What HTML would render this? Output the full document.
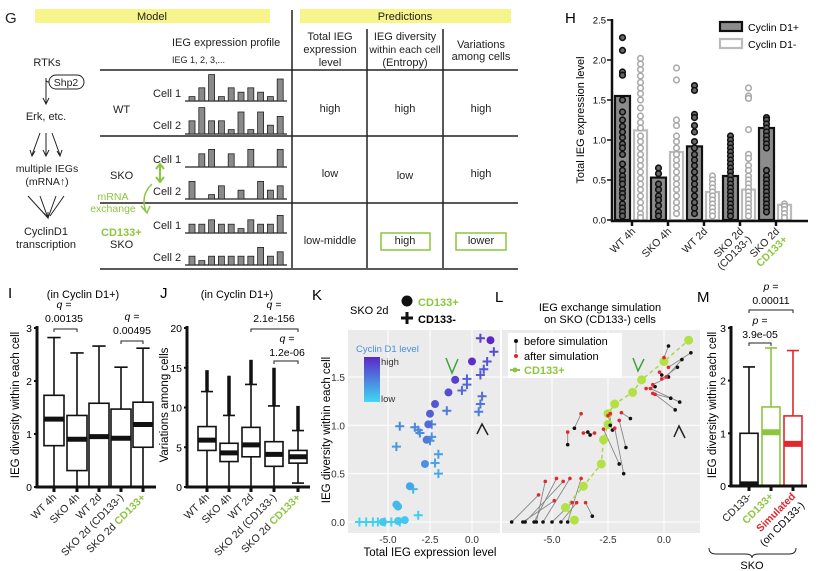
<!DOCTYPE html>
<html><head><meta charset="utf-8"><style>
html,body{margin:0;padding:0;background:#fff;}
svg{display:block;font-family:"Liberation Sans",Arial,sans-serif;}
</style></head><body>
<svg id="fig" width="820" height="571" viewBox="0 0 820 571">
<g id="panelG" font-size="11" fill="#222">
<text x="5" y="23" font-size="15">G</text>
<rect x="35" y="9" width="235" height="14" fill="#f7f48c"/>
<text x="152" y="20" text-anchor="middle">Model</text>
<rect x="300" y="9" width="211" height="14" fill="#f7f48c"/>
<text x="405" y="20" text-anchor="middle">Predictions</text>
<g stroke="#222" stroke-width="1.5">
<line x1="292" y1="10" x2="292" y2="268"/><line x1="367" y1="29" x2="367" y2="268"/><line x1="443" y1="29" x2="443" y2="268"/>
<line x1="100" y1="70" x2="518" y2="70"/><line x1="100" y1="136" x2="518" y2="136"/><line x1="100" y1="203" x2="518" y2="203"/><line x1="100" y1="269" x2="518" y2="269"/>
</g>
<text x="172" y="46" font-size="11">IEG expression profile</text>
<text x="172" y="63" font-size="9">IEG 1, 2, 3,...</text>
<g text-anchor="middle">
<text x="330" y="40">Total IEG</text><text x="330" y="53">expression</text><text x="330" y="66">level</text>
<text x="405" y="40">IEG diversity</text><text x="405" y="53" font-size="10.5">within each cell</text><text x="405" y="66">(Entropy)</text>
<text x="481" y="48">Variations</text><text x="481" y="60">among cells</text>
</g>
<g>
<text x="113" y="113">WT</text><text x="110" y="179">SKO</text>
<text x="101" y="236" fill="#8cc63f" font-weight="bold">CD133+</text><text x="110" y="248">SKO</text>
<text x="153" y="97">Cell 1</text><text x="153" y="129">Cell 2</text>
<text x="153" y="163">Cell 1</text><text x="153" y="195">Cell 2</text>
<text x="153" y="229">Cell 1</text><text x="153" y="261">Cell 2</text>
</g>
<g id="profiles"></g>
<g text-anchor="middle" font-size="11">
<text x="330" y="112">high</text><text x="405" y="112">high</text><text x="481" y="112">high</text>
<text x="330" y="177">low</text><text x="405" y="179">low</text><text x="481" y="177">high</text>
<text x="330" y="244">low-middle</text><text x="405" y="244">high</text><text x="481" y="244">lower</text>
</g>
<rect x="381" y="233" width="49" height="17" fill="none" stroke="#8cc63f" stroke-width="1.5"/>
<rect x="456" y="233" width="50" height="17" fill="none" stroke="#8cc63f" stroke-width="1.5"/>
<g text-anchor="middle">
<text x="47" y="66">RTKs</text>
<rect x="49" y="75" width="35" height="14" rx="7" fill="none" stroke="#222"/>
<text x="66" y="86" font-size="10.5">Shp2</text>
<path d="M46,78 L46,103 M43,98 L46,104 L49,98 M46,80 Q46,82 49,82" stroke="#222" fill="none"/>
<text x="46" y="120">Erk, etc.</text>
<path d="M46,133 L46,155 M43,150 L46,156 L49,150 M40,133 L32,155 M52,133 L60,155 M30,150 L32,156 L35,151 M57,151 L60,156 L62,150" stroke="#222" fill="none"/>
<text x="47" y="172" font-size="10.5">multiple IEGs</text>
<text x="47" y="185" font-size="10.5">(mRNA↑)</text>
<path d="M28,196 L48,218 M40,196 L48,218 M56,196 L48,218 M64,196 L50,216 M44,213 L48,218 L48,212" stroke="#222" fill="none"/>
<text x="46" y="235">CyclinD1</text><text x="46" y="248">transcription</text>
</g>
<g fill="#8cc63f" stroke="#8cc63f">
<path d="M160,165 L160,181 M156,169 L160,164 L164,169 M156,177 L160,182 L164,177" stroke-width="2" fill="none"/>
<path d="M152,184 Q140,195 146,212 M141,206 L147,213 L150,206" stroke-width="1.5" fill="none"/>
<text x="113" y="200" stroke="none" font-size="10.5" text-anchor="middle">mRNA</text>
<text x="113" y="212" stroke="none" font-size="10.5" text-anchor="middle">exchange</text>
</g>
</g>
<g id="panelH"></g>
<g id="panelI"></g>
<g id="panelJ"></g>
<g id="panelK"></g>
<g id="panelL"></g>
<g id="panelM"></g>
</svg>
<script>
const NS='http://www.w3.org/2000/svg';
function mk(parent,tag,attrs,txt){const e=document.createElementNS(NS,tag);for(const k in attrs)e.setAttribute(k,attrs[k]);if(txt!==undefined)e.textContent=txt;parent.appendChild(e);return e;}

// ---------- G profiles ----------
const profileRows=[[1,3,6,1,3,2,3,2,1,5],[3,6,3,3,1,5,1,5,2,4],[0,3,4,0,3,0,4,0,0,4],[4,0,1,3,0,2,0,4,2,3],[2,2,3,2,2,1,3,2,2,4],[2,1,2,2,2,2,2,4,2,3]];
const profileBase=[101,134,167,199,233,265];
(function(){const g=document.getElementById('profiles');
profileRows.forEach((r,ri)=>{
 const ln=mk(g,'line',{x1:185,x2:287,y1:profileBase[ri],y2:profileBase[ri],stroke:'#222','stroke-width':1.3});
 
 
 r.forEach((v,i)=>{ if(!v)return; const h=v*4.4;
  const b=mk(g,'rect',{x:189+i*9.8,y:profileBase[ri]-h,width:6,height:h,fill:'#8a8a8a',stroke:'#222','stroke-width':0.8});
  
  
 });});})();

// ---------- H ----------
const hCats=['WT 4h','SKO 4h','WT 2d','SKO 2d (CD133-)','SKO 2d CD133+'];
const hPos=[1.55,0.53,0.92,0.55,1.15];
const hNeg=[1.12,0.85,0.35,0.38,0.19];
const hDotsPos=[[2.28,2.12,1.85,1.81,1.5,1.35,1.25,1.17,1.1,1.03,0.95,0.9,0.82,0.7,0.62,0.55,0.5,0.45,0.38,0.33,0.28,0.2,0.15,0.1,0.05],[0.65,0.58,0.45,0.38,0.3,0.25,0.18,0.1,0.05],[1.68,1.62,1.32,1.28,1.18,1.1,0.98,0.9,0.82,0.75,0.68,0.6,0.52,0.45,0.38,0.3,0.22,0.15,0.08],[1.05,1.0,0.95,0.9,0.85,0.8,0.75,0.7,0.65,0.6,0.55,0.5,0.45,0.4,0.35,0.3,0.25,0.2,0.15,0.1,0.05],[1.28,1.25,1.2,1.15,1.1,1.05,1.0,0.95,0.9,0.62,0.55,0.5,0.45,0.4,0.35,0.3,0.25,0.2,0.15,0.1]];
const hDotsNeg=[[2.02,1.95,1.88,1.8,1.72,1.65,1.58,1.5,1.4,1.3,1.22,1.15,1.05,0.98,0.9,0.82,0.75,0.68,0.6,0.52,0.45,0.38,0.3,0.22,0.15,0.08,0.03],[1.9,1.75,1.25,1.18,1.05,0.98,0.9,0.82,0.75,0.68,0.6,0.52,0.45,0.38,0.3,0.22,0.15,0.08],[0.55,0.5,0.45,0.4,0.35,0.3,0.25,0.2,0.15,0.1,0.05],[1.65,1.55,1.52,1.13,0.82,0.77,0.68,0.62,0.55,0.5,0.45,0.4,0.35,0.3,0.25,0.2,0.15,0.1,0.05],[0.2,0.17,0.13,0.08,0.03]];
const hTicks=[0,0.5,1,1.5,2,2.5];
(function(){const g=document.getElementById('panelH');
 const y=v=>220-v*80, xc=i=>632+i*36;
 let t=mk(g,'text',{x:565,y:23,'font-size':15},'H');
 
 
 hCats.forEach((c,i)=>{
  const b1=mk(g,'rect',{x:xc(i)-17,y:y(hPos[i]),width:15,height:hPos[i]*80,fill:'#8c8c8c',stroke:'#111','stroke-width':2.2});
  
  
  const b2=mk(g,'rect',{x:xc(i)+2,y:y(hNeg[i]),width:13,height:hNeg[i]*80,fill:'none',stroke:'#bbb','stroke-width':2.2});
  
  
  hDotsPos[i].forEach(v=>{const d=mk(g,'circle',{cx:xc(i)-9.5,cy:y(v),r:2.8,fill:'#666',stroke:'#111','stroke-width':1.6});
   
   });
  hDotsNeg[i].forEach(v=>{const d=mk(g,'circle',{cx:xc(i)+8.5,cy:y(v),r:2.8,fill:'#fff',stroke:'#aaa','stroke-width':1.6});
   
   });
  const tk=mk(g,'line',{x1:xc(i),x2:xc(i),y1:220,y2:226,stroke:'#111','stroke-width':2.5});
  
  
 });
 const ax=mk(g,'path',{d:'M612,19 L612,221 L808,221',fill:'none',stroke:'#111','stroke-width':2.5});
 
 
 hTicks.forEach(v=>{const l=mk(g,'text',{x:606,y:y(v)+3.5,'font-size':9.5,'text-anchor':'end'},v.toFixed(1));
  
  
  const tk=mk(g,'line',{x1:607,x2:612,y1:y(v),y2:y(v),stroke:'#111','stroke-width':1.5});
  
  });
 const yl=mk(g,'text',{x:0,y:0,'font-size':11,'text-anchor':'middle',transform:'translate(584,120) rotate(-90)'},'Total IEG expression level');
 
 
 const labs=[['WT 4h'],['SKO 4h'],['WT 2d'],['SKO 2d','(CD133-)'],['SKO 2d','CD133+']];
 labs.forEach((L,i)=>{L.forEach((s,j)=>{const tx=mk(g,'text',{x:0,y:0,'font-size':10.5,'text-anchor':'end',fill:(i==4&&j==1)?'#8cc63f':'#222','font-weight':(i==4&&j==1)?'bold':'normal',transform:`translate(${xc(i)+4+j*8},${232+j*8}) rotate(-45)`},s);
  
  });});
 const lg=mk(g,'g',{});
 
 
 mk(lg,'rect',{x:720,y:22,width:22,height:9,fill:'#8c8c8c',stroke:'#111','stroke-width':2.2});
 mk(lg,'text',{x:748,y:31,'font-size':10.5},'Cyclin D1+');
 mk(lg,'rect',{x:720,y:39,width:22,height:9,fill:'none',stroke:'#bbb','stroke-width':2.2});
 mk(lg,'text',{x:748,y:48,'font-size':10.5},'Cyclin D1-');
})();

function boxplot(g,stats,xs,y,w,colors,medW){
 stats.forEach((s,i)=>{const c=colors[i];const x=xs[i];
  const wh=mk(g,'path',{d:`M${x},${y(s[0])} L${x},${y(s[1])} M${x},${y(s[3])} L${x},${y(s[4])} M${x-w/3},${y(s[4])} L${x+w/3},${y(s[4])} M${x-w/3},${y(s[0])} L${x+w/3},${y(s[0])}`,stroke:c,'stroke-width':1.6,fill:'none'});
  
  
  const bx=mk(g,'rect',{x:x-w/2,y:y(s[3]),width:w,height:Math.max(0,y(s[1])-y(s[3])),fill:'#fff',stroke:c,'stroke-width':1.6});
  
  
  const md=mk(g,'line',{x1:x-w/2,x2:x+w/2,y1:y(s[2]),y2:y(s[2]),stroke:c,'stroke-width':medW});
  
  
 });}
function yaxis(g,x,y0,y1,ticks,y,fmt,x2){
 const ax=mk(g,'path',{d:`M${x},${y1} L${x},${y0} L${x2},${y0}`,fill:'none',stroke:'#111','stroke-width':3});
 
 
 ticks.forEach(v=>{const t=mk(g,'text',{x:x-5,y:y(v)+4,'font-size':10.5,'text-anchor':'end'},fmt(v));
  
  
  const tk=mk(g,'line',{x1:x-3,x2:x,y1:y(v),y2:y(v),stroke:'#111','stroke-width':2});
  
  });}
function xlabels(g,xs,labels,yb){xs.forEach((x,i)=>{
  const tk=mk(g,'line',{x1:x,x2:x,y1:yb,y2:yb+5,stroke:'#111','stroke-width':3});
  
  
  const t=mk(g,'text',{x:0,y:0,'font-size':10.5,'text-anchor':'end',transform:`translate(${x+3},${yb+11}) rotate(-45)`});
  
  
  labels[i].forEach(p=>{mk(t,'tspan',{fill:p[1]||'#222','font-weight':p[1]?'bold':'normal'},p[0]);});
 });}
function bracket(g,x1,x2,yb,lines,cx,ly){
 const b=mk(g,'path',{d:`M${x1},${yb+3} L${x1},${yb} L${x2},${yb} L${x2},${yb+3}`,fill:'none',stroke:'#222','stroke-width':1});
 
 
 lines.forEach((s,j)=>{const t=mk(g,'text',{x:cx,y:ly+j*14,'font-size':10.5,'text-anchor':'middle','font-style':j==0?'italic':'normal'},s);
  
  });}
const boxLabels=[[['WT 4h']],[['SKO 4h']],[['WT 2d']],[['SKO 2d (CD133-)']],[['SKO 2d '],['CD133+','#8cc63f']]];

// ---------- I ----------
const iStats=[[0,0.78,1.28,1.73,2.82],[0,0.31,0.9,1.35,2.53],[0,0,0.95,1.58,2.66],[0,0,0.92,1.47,2.26],[0,0.75,1.18,1.6,2.62]];
const iTicks=[0,1,2,3];
(function(){const g=document.getElementById('panelI');
 const y=v=>487-v*53; const xs=[54,77,99,121,143];
 boxplot(g,iStats,xs,y,20,Array(5).fill('#111'),5);
 yaxis(g,37,487,326,iTicks,y,v=>v,156);
 xlabels(g,xs,boxLabels,487);
 let t=mk(g,'text',{x:8,y:298,'font-size':15},'I');
 
 
 t=mk(g,'text',{x:83,y:298,'font-size':11,'text-anchor':'middle'},'(in Cyclin D1+)');
 
 
 const yl=mk(g,'text',{x:0,y:0,'font-size':11.5,'text-anchor':'middle',transform:'translate(19,405) rotate(-90)'},'IEG diversity within each cell');
 
 
 bracket(g,54,77,329,['q =','0.00135'],64,308);
 bracket(g,121,143,341,['q =','0.00495'],132,320);
})();

// ---------- J ----------
const jStats=[[0,4.6,5.9,7.6,12],[0,3.2,4.3,5.5,9],[0,3.8,5.3,7.5,12.9],[0,2.6,4.1,5.7,10.2],[0.5,3.0,3.8,4.6,7.1]];
const jOutMax=[14.7,14,16,15,10.2];
const jTicks=[0,5,10,15,20];
(function(){const g=document.getElementById('panelJ');
 const y=v=>487-v*7.95; const xs=[207,229,251,274,298];
 jStats.forEach((s,i)=>{const o=mk(g,'line',{x1:xs[i],x2:xs[i],y1:y(s[4]),y2:y(jOutMax[i]),stroke:'#111','stroke-width':3.5});
  
  });
 boxplot(g,jStats,xs,y,18,Array(5).fill('#111'),5);
 yaxis(g,187,487,326,jTicks,y,v=>v,310);
 xlabels(g,xs,boxLabels,487);
 let t=mk(g,'text',{x:160,y:298,'font-size':15},'J');
 
 
 t=mk(g,'text',{x:237,y:298,'font-size':11,'text-anchor':'middle'},'(in Cyclin D1+)');
 
 
 const yl=mk(g,'text',{x:0,y:0,'font-size':11.5,'text-anchor':'middle',transform:'translate(168,405) rotate(-90)'},'Variations among cells');
 
 
 bracket(g,251,298,329,['q =','2.1e-156'],274,308);
 bracket(g,274,298,361,['q =','1.2e-06'],287,342);
})();

// ---------- K ----------
const kCircX=[1.1,0,-1,-1.4,-2.2,-2.5,-2.6,-2.7,-2.8,-3.7,-4.5,-4.4,-4.0,-4.4,-5.3];
const kCircY=[1.88,1.66,1.47,1.34,1.22,1.12,1.01,0.85,0.6,0.37,0.18,0.16,0.02,0.01,0.0];
const kPlusX=[0.5,1.3,0.9,0.7,0.5,-0.3,-0.3,-0.6,0.6,0.5,0.4,-1.5,-4.3,-3.4,-3.2,-3.1,-2.4,-2.4,-2.5,-4.5,-2,-2.2,-2,-3.5,-3.2,-6.7,-6.3,-5.9,-5.6,-5.2,-4.8,-4.3];
const kPlusY=[1.9,1.76,1.66,1.58,1.52,1.48,1.42,1.36,1.3,1.22,1.14,1.15,0.99,0.98,0.95,0.92,1.01,0.88,0.84,0.78,0.7,0.61,0.5,0.34,0.07,0,0,0,0,0,0,0];
const kXTicks=[-5,-2.5,0];
const kYTicks=[0,0.5,1,1.5];
function lvlColor(t){t=Math.max(0,Math.min(1,t));const a=[64,210,240],b=[92,40,200];return `rgb(${a.map((v,i)=>Math.round(v+(b[i]-v)*t)).join(',')})`;}
(function(){const g=document.getElementById('panelK');
 const x=v=>472+v*16.8, y=v=>522-v*96.7;
 const bg=mk(g,'rect',{x:348,y:330,width:152,height:203,fill:'#ebebeb'});
 
 
 kXTicks.forEach(v=>{const l=mk(g,'line',{x1:x(v),x2:x(v),y1:330,y2:533,stroke:'#fff','stroke-width':1});
  
  
  const t=mk(g,'text',{x:x(v),y:543,'font-size':10,'text-anchor':'middle',fill:'#333'},v.toFixed(1));
  
  });
 kYTicks.forEach(v=>{const l=mk(g,'line',{x1:348,x2:500,y1:y(v),y2:y(v),stroke:'#fff','stroke-width':1});
  
  
  const t=mk(g,'text',{x:345,y:y(v)+4,'font-size':10,'text-anchor':'end',fill:'#333'},v.toFixed(1));
  
  });
 kPlusX.forEach((v,i)=>{const c=lvlColor(kPlusY[i]/1.9*0.85);
  const p=mk(g,'path',{d:`M${x(v)-4.5},${y(kPlusY[i])} h9 M${x(v)},${y(kPlusY[i])-4.5} v9`,stroke:c,'stroke-width':2});
  
  });
 kCircX.forEach((v,i)=>{const c=lvlColor(kCircY[i]/1.9*1.05+0.05);
  const p=mk(g,'circle',{cx:x(v),cy:y(kCircY[i]),r:4,fill:c});
  
  });
 let t=mk(g,'text',{x:312,y:300,'font-size':15},'K');
 
 
 const lg=mk(g,'g',{});
 
 
 mk(lg,'text',{x:350,y:314,'font-size':11},'SKO 2d');
 mk(lg,'circle',{cx:407,cy:301,r:5.5,fill:'#111'});
 mk(lg,'text',{x:418,y:306,'font-size':11,'font-weight':'bold',fill:'#8cc63f'},'CD133+');
 mk(lg,'path',{d:'M401,318 h12 M407,312 v12',stroke:'#111','stroke-width':3});
 mk(lg,'text',{x:418,y:323,'font-size':11,'font-weight':'bold'},'CD133-');
 const defs=mk(g,'defs',{});const gr=mk(defs,'linearGradient',{id:'cbar',x1:0,y1:0,x2:0,y2:1});
 mk(gr,'stop',{offset:0,'stop-color':'#5c28c8'});mk(gr,'stop',{offset:1,'stop-color':'#40d8f4'});
 const cb=mk(g,'g',{});
 
 
 mk(cb,'text',{x:356,y:352,'font-size':9.5,fill:'#4a8ee0'},'Cyclin D1 level');
 mk(cb,'rect',{x:364,y:357,width:16,height:45,fill:'url(#cbar)'});
 mk(cb,'text',{x:381,y:365,'font-size':9.5,fill:'#333'},'high');
 mk(cb,'text',{x:381,y:402,'font-size':9.5,fill:'#333'},'low');
 const a1=mk(g,'path',{d:'M446,358 L452,373 L458,359',fill:'none',stroke:'#3ca33c','stroke-width':1.5});
 
 
 const a2=mk(g,'path',{d:'M477,434 L482,424 L488,435',fill:'none',stroke:'#222','stroke-width':1.5});
 
 
 t=mk(g,'text',{x:430,y:556,'font-size':11.5,'text-anchor':'middle'},'Total IEG expression level');
 
 
 t=mk(g,'text',{x:0,y:0,'font-size':11.5,'text-anchor':'middle',transform:'translate(330,430) rotate(-90)'},'IEG diversity within each cell');
 
 
})();

// ---------- L ----------
const lBeforeX=[-6.8,-6.3,-6.2,-5.8,-5.7,-5.4,-5.0,-4.6,-4.3,-3.2,-4.3,-4.0,-3.4,-3.3,-2.0,-1.8,-1.7,-1.5,-2.3,-2.4,0.2,1.2,0.8,0.6,0.2,-0.4,0.3,0.7,0.5,-0.1];
const lBeforeY=[0,0,0,0,0,0,0,0,0,0.06,0.8,0.97,0.93,0.9,0.6,0.5,0.77,1.07,0.95,1.0,1.82,1.75,1.68,1.6,1.5,1.4,1.28,1.24,1.16,1.52];
const lAfterX=[-5.6,-4.9,-4.5,-4.8,-5.3,-4.2,-4.1,-3.9,-3.7,-3.5,-4.3,-3.7,-3.6,-3.1,-2.7,-2.2,-2.0,-1.9,-2.5,-2.4,0,0.2,0.1,-0.1,-0.5,-0.8,-0.5,-0.6,-0.4,-0.2];
const lAfterY=[0.28,0.22,0.42,0.45,0.42,0.45,0.2,0.2,0.45,0.2,0.93,1.12,0.92,0.92,0.96,0.97,1.05,1.13,1.1,1.12,1.7,1.6,1.5,1.48,1.42,1.38,1.33,1.38,1.32,1.55];
const lGreenX=[-4.0,-4.4,-3.6,-2.8,-2.7,-2.5,-2.5,-2.2,-1.4,-1,0,1.1];
const lGreenY=[0.02,0.15,0.37,0.6,0.85,1.01,1.12,1.22,1.34,1.47,1.66,1.88];
const lXTicks=[-5,-2.5,0];
const lYTicks=[0,0.5,1,1.5];
(function(){const g=document.getElementById('panelL');
 const x=v=>664+v*22.4, y=v=>522-v*96.7;
 const bg=mk(g,'rect',{x:502,y:330,width:198,height:203,fill:'#ebebeb'});
 
 
 lXTicks.forEach(v=>{const l=mk(g,'line',{x1:x(v),x2:x(v),y1:330,y2:533,stroke:'#fff','stroke-width':1});
  
  
  const t=mk(g,'text',{x:x(v),y:543,'font-size':10,'text-anchor':'middle',fill:'#333'},v.toFixed(1));
  
  });
 lYTicks.forEach(v=>{const l=mk(g,'line',{x1:502,x2:700,y1:y(v),y2:y(v),stroke:'#fff','stroke-width':1});
  
  });
 lBeforeX.forEach((v,i)=>{const l=mk(g,'line',{x1:x(v),y1:y(lBeforeY[i]),x2:x(lAfterX[i]),y2:y(lAfterY[i]),stroke:'#888','stroke-width':0.9});
  
  });
 const gl=mk(g,'polyline',{points:lGreenX.map((v,i)=>x(v)+','+y(lGreenY[i])).join(' '),fill:'none',stroke:'#a8d84a','stroke-width':1.5,'stroke-dasharray':'4 3'});
 
 
 lGreenX.forEach((v,i)=>{const c=mk(g,'circle',{cx:x(v),cy:y(lGreenY[i]),r:4.5,fill:'#b3e045'});
  
  });
 lBeforeX.forEach((v,i)=>{const c=mk(g,'circle',{cx:x(v),cy:y(lBeforeY[i]),r:1.8,fill:'#111'});
  
  });
 lAfterX.forEach((v,i)=>{const c=mk(g,'circle',{cx:x(v),cy:y(lAfterY[i]),r:1.8,fill:'#e0282e'});
  
  });
 let t=mk(g,'text',{x:495,y:302,'font-size':15},'L');
 
 
 t=mk(g,'text',{x:600,y:311,'font-size':11,'text-anchor':'middle'},'IEG exchange simulation');
 
 
 t=mk(g,'text',{x:600,y:323,'font-size':11,'text-anchor':'middle'},'on SKO (CD133-) cells');
 
 
 const lg=mk(g,'g',{});
 
 
 mk(lg,'rect',{x:508,y:333,width:114,height:45,fill:'#fff'});
 mk(lg,'circle',{cx:516,cy:341,r:2,fill:'#111'});mk(lg,'line',{x1:516,y1:343,x2:516,y2:353,stroke:'#888'});
 mk(lg,'circle',{cx:516,cy:356,r:2,fill:'#e0282e'});
 mk(lg,'text',{x:524,y:345,'font-size':11},'before simulation');
 mk(lg,'text',{x:524,y:360,'font-size':11},'after simulation');
 mk(lg,'line',{x1:510,x2:520,y1:370,y2:370,stroke:'#8cc63f','stroke-width':2});mk(lg,'circle',{cx:515,cy:370,r:2.5,fill:'#8cc63f'});
 mk(lg,'text',{x:524,y:374,'font-size':11,'font-weight':'bold',fill:'#8cc63f'},'CD133+');
 const a1=mk(g,'path',{d:'M633,358 L638,371 L644,359',fill:'none',stroke:'#3ca33c','stroke-width':1.5});
 
 
 const a2=mk(g,'path',{d:'M674,437 L679,426 L685,438',fill:'none',stroke:'#222','stroke-width':1.5});
 
 
})();

// ---------- M ----------
const mStats=[[0,0,0.03,1.0,2.26],[0,0,1.02,1.5,2.62],[0,0,0.8,1.33,2.57]];
const mTicks=[0,1,2,3];
(function(){const g=document.getElementById('panelM');
 const y=v=>486-v*52.7; const xs=[749,771,793];
 boxplot(g,mStats,xs,y,18,['#111','#8cc63f','#e0282e'],6);
 yaxis(g,731,486,326,mTicks,y,v=>v,807);
 xlabels(g,xs,[[['CD133-']],[['CD133+','#8cc63f']],[['Simulated','#e0282e']]],486);
 const t2=mk(g,'text',{x:0,y:0,'font-size':10.5,'text-anchor':'end',transform:'translate(805,506) rotate(-45)'},'(on CD133-)');
 
 
 let t=mk(g,'text',{x:697,y:302,'font-size':15},'M');
 
 
 t=mk(g,'text',{x:0,y:0,'font-size':11.5,'text-anchor':'middle',transform:'translate(716,405) rotate(-90)'},'IEG diversity within each cell');
 
 
 bracket(g,749,793,310,['p =','0.00011'],771,290);
 bracket(g,749,771,343,['p =','3.9e-05'],760,324);
 const br=mk(g,'path',{d:'M709,548 Q709,554 716,554 L745,554 Q752,554 752,558 Q752,554 759,554 L789,554 Q796,554 796,548',fill:'none',stroke:'#222','stroke-width':1});
 
 
 t=mk(g,'text',{x:752,y:569,'font-size':11,'text-anchor':'middle'},'SKO');
 
 
})();
</script>
</body></html>
